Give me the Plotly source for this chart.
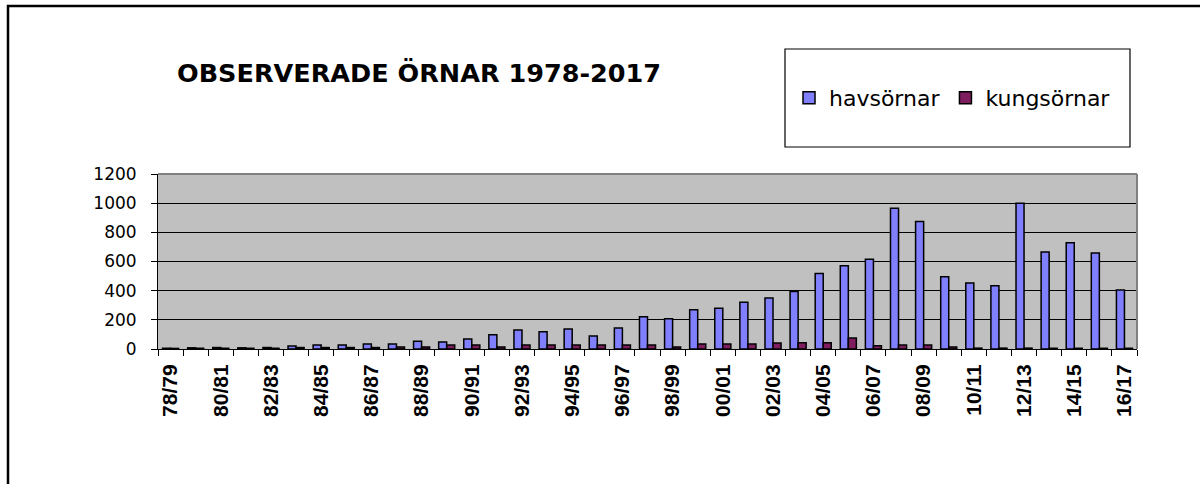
import plotly.graph_objects as go

categories = ["78/79", "79/80", "80/81", "81/82", "82/83", "83/84", "84/85", "85/86",
              "86/87", "87/88", "88/89", "89/90", "90/91", "91/92", "92/93", "93/94",
              "94/95", "95/96", "96/97", "97/98", "98/99", "99/00", "00/01", "01/02",
              "02/03", "03/04", "04/05", "05/06", "06/07", "07/08", "08/09", "09/10",
              "10/11", "11/12", "12/13", "13/14", "14/15", "15/16", "16/17"]

havsornar = [5, 8, 10, 8, 10, 20, 28, 28, 35, 34, 53, 48, 69, 98, 130, 119, 137, 89,
             144, 222, 208, 270, 279, 320, 350, 395, 517, 571, 615, 965, 875, 496,
             453, 434, 1000, 665, 729, 658, 405]

kungsornar = [4, 5, 5, 5, 5, 10, 10, 10, 10, 14, 14, 27, 27, 14, 27, 27, 27, 27,
              27, 27, 14, 34, 34, 34, 41, 43, 43, 75, 23, 27, 27, 14,
              6, 6, 6, 5, 5, 5, 5]

tick_labels = [c if i % 2 == 0 else "" for i, c in enumerate(categories)]
y_ticks = [0, 200, 400, 600, 800, 1000, 1200]

FONT = "DejaVu Sans, sans-serif"
FONT_X = "Liberation Sans, Arial, sans-serif"

# pixel layout helpers
W, H = 1200, 484
L, R, T, B = 158, 63, 174, 135
pw, ph = W - L - R, H - T - B


def px(x):
    return (x - L) / pw


def py(y):
    return (H - B - y) / ph


fig = go.Figure()
fig.add_trace(go.Bar(x=categories, y=havsornar, name="havsörnar",
                     marker=dict(color="#8080FF", line=dict(color="black", width=1.5))))
fig.add_trace(go.Bar(x=categories, y=kungsornar, name="kungsörnar",
                     marker=dict(color="#7E1E5E", line=dict(color="black", width=1.5))))

fig.update_layout(
    width=W, height=H,
    margin=dict(l=L, r=R, t=T, b=B, autoexpand=False),
    paper_bgcolor="white",
    plot_bgcolor="#C0C0C0",
    barmode="group",
    bargap=0.36,
    bargroupgap=0,
    font=dict(family=FONT, color="black"),
    showlegend=True,
    legend=dict(orientation="h", x=px(789), y=py(98), xanchor="left", yanchor="middle",
                bgcolor="rgba(0,0,0,0)", borderwidth=0,
                font=dict(family=FONT, size=22, color="black"),
                itemwidth=30, tracegroupgap=0),
    xaxis=dict(type="category", tickmode="array", tickvals=categories, ticktext=tick_labels,
               tickangle=-90, tickson="boundaries", ticks="outside", ticklen=6,
               tickcolor="black", showline=True, linecolor="black", linewidth=1,
               tickfont=dict(family=FONT_X, size=21, color="black", weight="bold"),
               ticklabelstandoff=6, showgrid=False, fixedrange=True),
    yaxis=dict(range=[0, 1200], tickvals=y_ticks, ticks="outside", ticklen=6,
               tickcolor="black", showline=True, linecolor="black", linewidth=1,
               gridcolor="black", gridwidth=1, zeroline=False,
               tickfont=dict(family=FONT, size=17, color="black"),
               ticklabelstandoff=11, fixedrange=True),
)

shapes = [
    # outer border
    dict(type="rect", xref="paper", yref="paper", x0=px(8), x1=px(1210), y0=py(500), y1=py(6),
         line=dict(color="black", width=2.5), fillcolor="rgba(0,0,0,0)", layer="above"),
    # legend box
    dict(type="rect", xref="paper", yref="paper", x0=px(785), x1=px(1130), y0=py(147), y1=py(49),
         line=dict(color="black", width=1.2), fillcolor="white", layer="below"),
    # plot area top/right gray border
    dict(type="line", xref="paper", yref="paper", x0=0, x1=1, y0=1, y1=1,
         line=dict(color="#808080", width=2), layer="above"),
    dict(type="line", xref="paper", yref="paper", x0=1, x1=1, y0=0, y1=1,
         line=dict(color="#808080", width=2), layer="above"),
]
fig.update_layout(shapes=shapes)

fig.add_annotation(text="<b>OBSERVERADE ÖRNAR 1978-2017</b>", xref="paper", yref="paper",
                   x=px(175), y=py(73), xanchor="left", yanchor="middle", showarrow=False,
                   font=dict(family=FONT, size=25.5, color="black"))

fig.write_html("out.html", config={"displayModeBar": False},
               post_script="document.body.style.margin='0';")
